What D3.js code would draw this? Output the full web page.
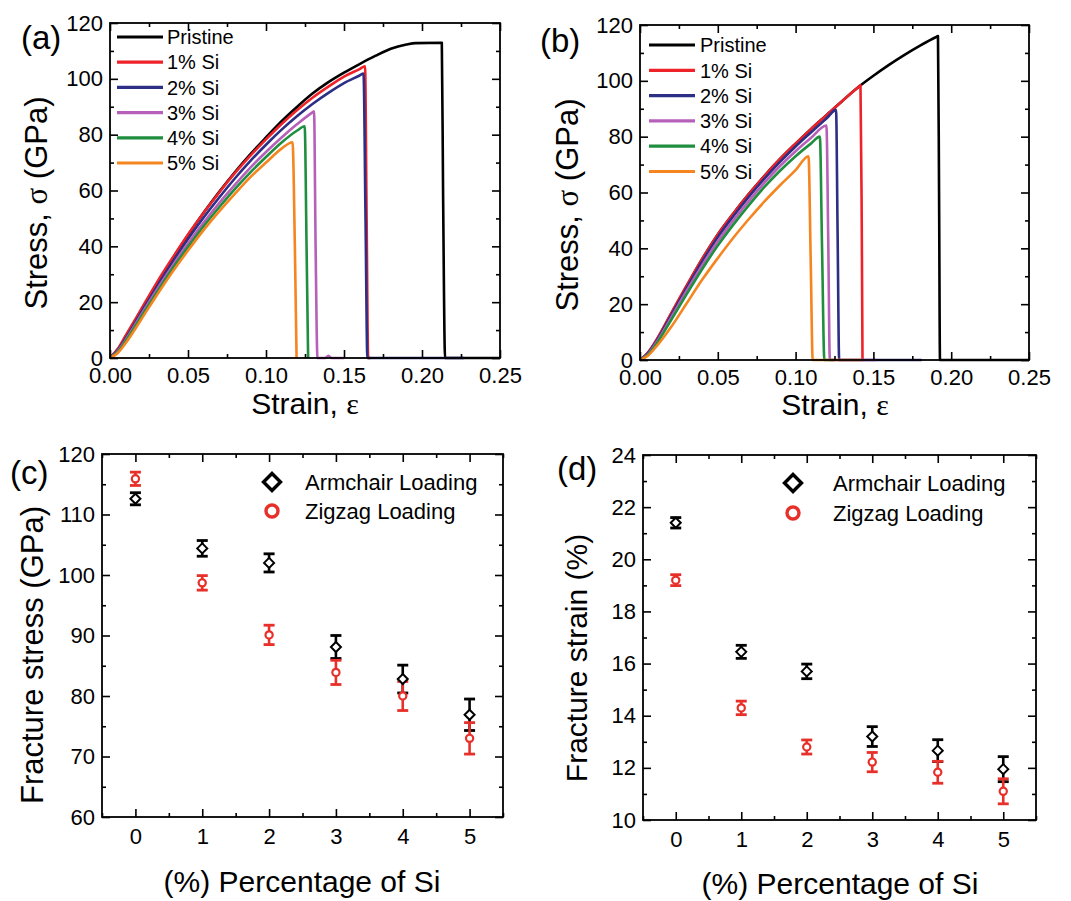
<!DOCTYPE html>
<html><head><meta charset="utf-8">
<script src="https://d3js.org/d3.v7.min.js"></script>
<style>
body{margin:0;background:#fff;}
svg{display:block;}
text{font-family:"Liberation Sans",Arial,sans-serif;fill:#000;}
</style></head>
<body>
<svg id="chart" width="1071" height="901"></svg>
<script>
// ---------- DATA ----------
// Panel (a): armchair loading, [strain, stress GPa]
const aPristine = [[0,0],[0.005,3],[0.01,7.5],[0.02,17],[0.03,26.5],[0.04,35.5],[0.05,44],[0.06,52],[0.07,59.5],[0.08,66.5],[0.09,73],[0.10,79],[0.11,84.8],[0.12,90],[0.13,94.8],[0.14,98.8],[0.15,102.2],[0.16,105.3],[0.17,108.2],[0.18,110.8],[0.19,112.3],[0.196,112.8],[0.2127,112.9],[0.2135,60],[0.2148,0],[0.25,0]];
const aSi1 = [[0,0],[0.005,3.3],[0.01,8],[0.02,17.5],[0.03,27],[0.04,35.8],[0.05,44.2],[0.06,52],[0.07,59.3],[0.08,66.2],[0.09,72.5],[0.10,78.3],[0.11,83.8],[0.12,88.8],[0.13,93.3],[0.14,97.2],[0.15,100.8],[0.16,103.5],[0.1635,104.5],[0.1645,50],[0.1655,0],[0.167,0]];
const aSi2 = [[0,0],[0.005,2.8],[0.01,7],[0.02,16.3],[0.03,25.5],[0.04,34.3],[0.05,42.6],[0.06,50.3],[0.07,57.5],[0.08,64.3],[0.09,70.6],[0.10,76.4],[0.11,81.8],[0.12,86.7],[0.13,91.1],[0.14,95],[0.15,98.5],[0.16,101.2],[0.1625,101.9],[0.1638,50],[0.165,0],[0.227,0]];
const aSi3 = [[0,0],[0.005,2.5],[0.01,6.5],[0.02,15.5],[0.03,24.5],[0.04,33],[0.05,41],[0.06,48.5],[0.07,55.5],[0.08,62],[0.09,68.2],[0.10,73.8],[0.11,79],[0.12,83.8],[0.13,88.1],[0.1308,88.4],[0.1318,40],[0.133,0],[0.138,0],[0.14,0.8],[0.142,0],[0.15,0]];
const aSi4 = [[0,0],[0.005,2.2],[0.01,6],[0.02,14.8],[0.03,23.5],[0.04,32],[0.05,39.8],[0.06,47.2],[0.07,54],[0.08,60.5],[0.09,66.5],[0.10,72],[0.11,77.2],[0.12,81.5],[0.1248,83],[0.126,40],[0.127,0]];
const aSi5 = [[0,0],[0.005,1.8],[0.01,5.3],[0.02,13.8],[0.03,22.5],[0.04,30.8],[0.05,38.5],[0.06,45.8],[0.07,52.5],[0.08,58.8],[0.09,64.8],[0.10,70],[0.11,75],[0.117,77.3],[0.1185,40],[0.1196,0]];
// Panel (b): zigzag loading
const bPristine = [[0,0],[0.005,2.5],[0.01,6.5],[0.02,16.5],[0.03,26.5],[0.04,36.2],[0.05,45],[0.06,52.5],[0.07,59.5],[0.08,66],[0.09,72],[0.10,77.5],[0.11,82.8],[0.12,87.8],[0.13,92.8],[0.14,97.6],[0.15,101.8],[0.16,105.7],[0.17,109.3],[0.18,112.6],[0.19,115.6],[0.1915,116],[0.1922,60],[0.1928,0],[0.25,0]];
const bSi1 = [[0,0],[0.005,2.6],[0.01,6.7],[0.02,16.7],[0.03,26.7],[0.04,36.3],[0.05,45],[0.06,52.5],[0.07,59.5],[0.08,66],[0.09,72],[0.10,77.5],[0.11,82.8],[0.12,87.8],[0.13,92.8],[0.14,97.6],[0.1417,98.4],[0.1425,50],[0.143,0]];
const bSi2 = [[0,0],[0.005,2.3],[0.01,6.2],[0.02,16],[0.03,25.8],[0.04,35.3],[0.05,44],[0.06,51.5],[0.07,58.5],[0.08,65],[0.09,71],[0.10,76.5],[0.11,81.6],[0.12,86.6],[0.126,89.6],[0.127,45],[0.128,0],[0.181,0]];
const bSi3 = [[0,0],[0.005,2],[0.01,5.8],[0.02,15.2],[0.03,24.8],[0.04,34],[0.05,42.5],[0.06,50],[0.07,57],[0.08,63.5],[0.09,69.5],[0.10,74.8],[0.11,79.6],[0.1198,84],[0.121,42],[0.122,0],[0.152,0]];
const bSi4 = [[0,0],[0.005,1.8],[0.01,5.3],[0.02,14.3],[0.03,23.6],[0.04,32.6],[0.05,41],[0.06,48.5],[0.07,55.5],[0.08,62],[0.09,67.8],[0.10,73],[0.11,77.6],[0.1156,80],[0.117,40],[0.1185,0],[0.125,0]];
const bSi5 = [[0,0],[0.005,1.5],[0.01,4.5],[0.02,11.8],[0.03,20.3],[0.04,28.8],[0.05,36.5],[0.06,43.8],[0.07,50.5],[0.08,56.8],[0.09,62.6],[0.10,68],[0.1083,73],[0.1097,36],[0.111,0],[0.143,0]];

const seriesNames = ["Pristine","1% Si","2% Si","3% Si","4% Si","5% Si"];
const seriesColors = ["#000000","#ee2229","#2c2f85","#b660ba","#1f8f3f","#f5851f"];

// Panels (c),(d)
const siPercent = [0,1,2,3,4,5];
const stressArm = [112.6,104.4,102.0,88.1,82.8,76.9];
const stressArmErr = [1.0,1.3,1.5,1.9,2.3,2.6];
const stressZig = [115.9,98.7,90.1,83.9,80.0,73.0];
const stressZigErr = [1.1,1.2,1.6,2.0,2.4,2.6];
const strainArm = [21.4,16.45,15.7,13.2,12.66,11.95];
const strainArmErr = [0.2,0.25,0.28,0.38,0.42,0.48];
const strainZig = [19.2,14.3,12.8,12.22,11.83,11.1];
const strainZigErr = [0.21,0.26,0.27,0.37,0.42,0.48];
const legendCD = ["Armchair Loading","Zigzag Loading"];

const strainTicks = [0,0.05,0.10,0.15,0.20,0.25];
const strainMinor = [0.025,0.075,0.125,0.175,0.225];
const stressTicks = [0,20,40,60,80,100,120];
const stressMinor = [10,30,50,70,90,110];
const pctTicks = [0,1,2,3,4,5];
const pctMinor = [-0.5,0.5,1.5,2.5,3.5,4.5,5.5];
const fsTicks = [60,70,80,90,100,110,120];
const fsMinor = [65,75,85,95,105,115];
const feTicks = [10,12,14,16,18,20,22,24];
const feMinor = [11,13,15,17,19,21,23];

// ---------- DRAW ----------
const svg = d3.select("#chart");
const RED = "#e8302b";

function axes(P, x, y, xt, xm, yt, ym, xfmt, xpad, ypad){
  const g = svg.append("g");
  const style = sel => { sel.select(".domain").remove(); sel.selectAll("line").attr("stroke","#000").attr("stroke-width",1.6); sel.selectAll("text").style("font-size","22px"); };
  g.append("g").attr("transform",`translate(0,${P.y1})`).call(d3.axisBottom(x).tickValues(xt).tickSize(-8).tickPadding(xpad).tickFormat(xfmt)).call(style);
  g.append("g").attr("transform",`translate(0,${P.y1})`).call(d3.axisBottom(x).tickValues(xm).tickSize(-4).tickFormat("")).call(style);
  g.append("g").attr("transform",`translate(0,${P.y0})`).call(d3.axisTop(x).tickValues(xt).tickSize(-8).tickFormat("")).call(style);
  g.append("g").attr("transform",`translate(0,${P.y0})`).call(d3.axisTop(x).tickValues(xm).tickSize(-4).tickFormat("")).call(style);
  g.append("g").attr("transform",`translate(${P.x0},0)`).call(d3.axisLeft(y).tickValues(yt).tickSize(-8).tickPadding(ypad).tickFormat(d3.format("d"))).call(style);
  g.append("g").attr("transform",`translate(${P.x0},0)`).call(d3.axisLeft(y).tickValues(ym).tickSize(-4).tickFormat("")).call(style);
  g.append("g").attr("transform",`translate(${P.x1},0)`).call(d3.axisRight(y).tickValues(yt).tickSize(-8).tickFormat("")).call(style);
  g.append("g").attr("transform",`translate(${P.x1},0)`).call(d3.axisRight(y).tickValues(ym).tickSize(-4).tickFormat("")).call(style);
  g.append("rect").attr("x",P.x0).attr("y",P.y0).attr("width",P.x1-P.x0).attr("height",P.y1-P.y0)
    .attr("fill","none").attr("stroke","#000").attr("stroke-width",1.8);
}

function yTitle(xb, yc, parts, size){
  const t = svg.append("text").attr("transform",`translate(${xb},${yc}) rotate(-90)`).attr("text-anchor","middle").style("font-size",size+"px");
  parts.forEach(p => { const s = t.append("tspan").text(p[0]); if(p[1]) s.style("font-family","'Liberation Serif','Times New Roman',serif"); });
}
function xTitle(xc, yb, parts, size){
  const t = svg.append("text").attr("x",xc).attr("y",yb).attr("text-anchor","middle").style("font-size",size+"px");
  parts.forEach(p => { const s = t.append("tspan").text(p[0]); if(p[1]) s.style("font-family","'Liberation Serif','Times New Roman',serif"); });
}
function panelLabel(x, y, s){
  svg.append("text").attr("x",x).attr("y",y).style("font-size","33px").text(s);
}

// Stress-strain panels
function curvePanel(P, data, lx0, lx1, ltx, ly, label, lab){
  const x = d3.scaleLinear().domain([0,0.25]).range([P.x0,P.x1]);
  const y = d3.scaleLinear().domain([0,120]).range([P.y1,P.y0]);
  const line = d3.line().x(d=>x(d[0])).y(d=>y(d[1])).curve(d3.curveMonotoneX);
  data.forEach((d,i)=>{
    svg.append("path").datum(d).attr("d",line).attr("fill","none")
      .attr("stroke",seriesColors[i]).attr("stroke-width",2.6).attr("stroke-linejoin","round");
  });
  axes(P,x,y,strainTicks,strainMinor,stressTicks,stressMinor,d3.format(".2f"),9,7);
  const lg = svg.append("g");
  seriesNames.forEach((n,i)=>{
    const yy = ly[0] + i*ly[1];
    lg.append("line").attr("x1",lx0).attr("x2",lx1).attr("y1",yy).attr("y2",yy).attr("stroke",seriesColors[i]).attr("stroke-width",3.2);
    lg.append("text").attr("x",ltx).attr("y",yy).attr("dy","0.36em").style("font-size","20px").text(n);
  });
  panelLabel(lab[0],lab[1],label);
}

const PA = {x0:110,x1:500,y0:23,y1:358};
const PB = {x0:640,x1:1029,y0:25,y1:360};
curvePanel(PA,[aPristine,aSi1,aSi2,aSi3,aSi4,aSi5],117,163,167,[37,25.2],"(a)",[21,49]);
curvePanel(PB,[bPristine,bSi1,bSi2,bSi3,bSi4,bSi5],649,695,700,[45,25.3],"(b)",[540,52]);
yTitle(47,203,[["Stress, "],["σ",true],[" (GPa)"]],31);
yTitle(578,205,[["Stress, "],["σ",true],[" (GPa)"]],31);
xTitle(305,414,[["Strain, "],["ε",true]],30);
xTitle(835,415,[["Strain, "],["ε",true]],30);

// Scatter panels
function diamond(g, cx, cy, r, sw){
  g.append("path").attr("d",`M${cx},${cy-r}L${cx+r},${cy}L${cx},${cy+r}L${cx-r},${cy}Z`)
   .attr("fill","#fff").attr("stroke","#000").attr("stroke-width",sw);
}
function scatterPanel(P, yd, yt, ym, arm, armE, zig, zigE, leg, label, lab){
  const x = d3.scaleLinear().domain([-0.5,5.5]).range([P.x0,P.x1]);
  const y = d3.scaleLinear().domain(yd).range([P.y1,P.y0]);
  axes(P,x,y,pctTicks,pctMinor,yt,ym,d3.format("d"),11,7);
  const g = svg.append("g");
  const errbar = (vals, errs, color) => {
    siPercent.forEach((p,i)=>{
      const cx = x(p), t = y(vals[i]+errs[i]), b = y(vals[i]-errs[i]);
      g.append("line").attr("x1",cx).attr("x2",cx).attr("y1",t).attr("y2",b).attr("stroke",color).attr("stroke-width",2.6);
      g.append("line").attr("x1",cx-5.5).attr("x2",cx+5.5).attr("y1",t).attr("y2",t).attr("stroke",color).attr("stroke-width",2.8);
      g.append("line").attr("x1",cx-5.5).attr("x2",cx+5.5).attr("y1",b).attr("y2",b).attr("stroke",color).attr("stroke-width",2.8);
    });
  };
  errbar(arm,armE,"#000");
  errbar(zig,zigE,RED);
  siPercent.forEach((p,i)=>{ diamond(g,x(p),y(arm[i]),5,2); });
  siPercent.forEach((p,i)=>{
    g.append("circle").attr("cx",x(p)).attr("cy",y(zig[i])).attr("r",3.6).attr("fill","#fff").attr("stroke",RED).attr("stroke-width",2.2);
  });
  // legend
  diamond(g,leg[0],leg[2],8.5,3.4);
  g.append("circle").attr("cx",leg[0]).attr("cy",leg[3]).attr("r",6).attr("fill","#fff").attr("stroke",RED).attr("stroke-width",3.4);
  g.append("text").attr("x",leg[1]).attr("y",leg[2]).attr("dy","0.36em").style("font-size","22px").text(legendCD[0]);
  g.append("text").attr("x",leg[1]).attr("y",leg[3]).attr("dy","0.36em").style("font-size","22px").text(legendCD[1]);
  panelLabel(lab[0],lab[1],label);
}
const PC = {x0:102,x1:503,y0:454,y1:817};
const PD = {x0:643,x1:1036,y0:455,y1:820};
scatterPanel(PC,[60,120],fsTicks,fsMinor,stressArm,stressArmErr,stressZig,stressZigErr,[272,305,482,511],"(c)",[10,484]);
scatterPanel(PD,[10,24],feTicks,feMinor,strainArm,strainArmErr,strainZig,strainZigErr,[793,833,483,513],"(d)",[557,480]);
yTitle(43,655,[["Fracture stress (GPa)"]],31);
yTitle(587,658,[["Fracture strain (%)"]],30);
xTitle(302,892,[["(%) Percentage of Si"]],30);
xTitle(840,894,[["(%) Percentage of Si"]],30);
</script>
</body></html>
